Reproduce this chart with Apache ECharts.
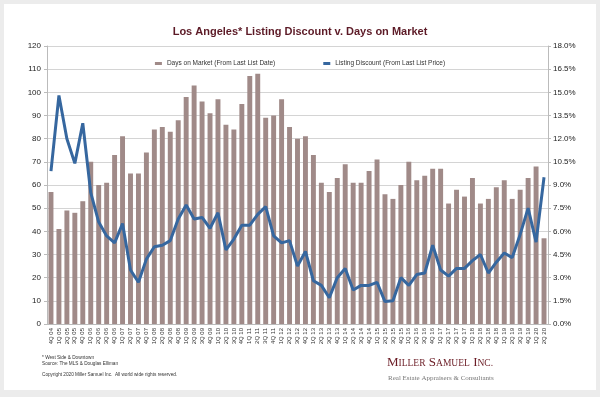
<!DOCTYPE html>
<html>
<head>
<meta charset="utf-8">
<script src="https://cdn.jsdelivr.net/npm/echarts@6/dist/echarts.min.js"></script>
<style>
  html, body { margin: 0; padding: 0; background: #ececec; }
  #myChart { width: 600px; height: 397px; }
</style>
</head>
<body>
<div id="myChart"></div>
<script>
// quarters, 4Q 04 .. 2Q 20
var quarters = [
  "4Q 04",
  "1Q 05", "2Q 05", "3Q 05", "4Q 05",
  "1Q 06", "2Q 06", "3Q 06", "4Q 06",
  "1Q 07", "2Q 07", "3Q 07", "4Q 07",
  "1Q 08", "2Q 08", "3Q 08", "4Q 08",
  "1Q 09", "2Q 09", "3Q 09", "4Q 09",
  "1Q 10", "2Q 10", "3Q 10", "4Q 10",
  "1Q 11", "2Q 11", "3Q 11", "4Q 11",
  "1Q 12", "2Q 12", "3Q 12", "4Q 12",
  "1Q 13", "2Q 13", "3Q 13", "4Q 13",
  "1Q 14", "2Q 14", "3Q 14", "4Q 14",
  "1Q 15", "2Q 15", "3Q 15", "4Q 15",
  "1Q 16", "2Q 16", "3Q 16", "4Q 16",
  "1Q 17", "2Q 17", "3Q 17", "4Q 17",
  "1Q 18", "2Q 18", "3Q 18", "4Q 18",
  "1Q 19", "2Q 19", "3Q 19", "4Q 19",
  "1Q 20", "2Q 20"
];

// days on market (from last list date)
var daysOnMarket = [
  57,
  41, 49, 48, 53,
  70, 60, 61, 73,
  81, 65, 65, 74,
  84, 85, 83, 88,
  98, 103, 96, 91,
  97, 86, 84, 95,
  107, 108, 89, 90,
  97, 85, 80, 81,
  73, 61, 57, 63,
  69, 61, 61, 66,
  71, 56, 54, 60,
  70, 62, 64, 67,
  67, 52, 58, 55,
  63, 52, 54, 59,
  62, 54, 58, 63,
  68, 37
];

// listing discount (from last list price), %
var listingDiscount = [
  9.9,
  14.8, 12.0, 10.4, 13.0,
  8.5, 6.6, 5.7, 5.25,
  6.5, 3.5, 2.7, 4.2,
  5.0, 5.1, 5.4, 6.8,
  7.7, 6.8, 6.9, 6.2,
  7.2, 4.8, 5.5, 6.4,
  6.4, 7.1, 7.6, 5.7,
  5.25, 5.4, 3.75, 4.7,
  2.8, 2.5, 1.7, 3.0,
  3.6, 2.2, 2.5, 2.5,
  2.7, 1.45, 1.5, 3.0,
  2.5, 3.2, 3.3, 5.1,
  3.5, 3.1, 3.6, 3.6,
  4.1, 4.5, 3.3, 4.0,
  4.6, 4.3, 5.8, 7.5,
  5.3, 9.5
];

var leftTicks = [0, 120, 10];   // min, max, interval
var rightTicks = [0, 18, 1.5];

var myChart = echarts.init(document.getElementById("myChart"));
myChart.setOption({
  animation: false,
  backgroundColor: "#ececec",
  textStyle: { fontFamily: "Liberation Sans, Arial, sans-serif" },
  title: {
    text: "Los Angeles* Listing Discount v. Days on Market",
    left: "center",
    top: 21,
    textStyle: { color: "#5c1a26", fontSize: 11, fontWeight: "bold" }
  },
  legend: {
    top: 55,
    left: "center",
    itemGap: 48,
    itemWidth: 7,
    itemHeight: 3,
    textStyle: { fontSize: 6.5, color: "#333" },
    data: [
      { name: "Days on Market (From Last List Date)", icon: "rect" },
      { name: "Listing Discount (From Last List Price)", icon: "rect" }
    ]
  },
  grid: { left: 47, right: 52, top: 46, bottom: 73, containLabel: false },
  xAxis: {
    type: "category",
    data: quarters,
    axisLine: { lineStyle: { color: "#bbb" } },
    axisTick: { show: false },
    axisLabel: { rotate: 90, fontSize: 6, color: "#333", interval: 0, margin: 4 }
  },
  yAxis: [
    {
      type: "value",
      min: leftTicks[0], max: leftTicks[1], interval: leftTicks[2],
      axisLine: { show: true, lineStyle: { color: "#bbb" } },
      axisTick: { show: true, length: 3, lineStyle: { color: "#bbb" } },
      axisLabel: { fontSize: 8, color: "#222", margin: 6 },
      splitLine: { lineStyle: { color: "#d4d4d4", width: 1 } }
    },
    {
      type: "value",
      min: rightTicks[0], max: rightTicks[1], interval: rightTicks[2],
      axisLine: { show: true, lineStyle: { color: "#bbb" } },
      axisTick: { show: true, length: 3, lineStyle: { color: "#bbb" } },
      axisLabel: {
        fontSize: 8, color: "#222", margin: 5,
        formatter: function (v) { return v.toFixed(1) + "%"; }
      },
      splitLine: { show: false }
    }
  ],
  series: [
    {
      name: "Days on Market (From Last List Date)",
      type: "bar",
      data: daysOnMarket,
      barCategoryGap: "38%",
      itemStyle: { color: "#a08a88" }
    },
    {
      name: "Listing Discount (From Last List Price)",
      type: "line",
      yAxisIndex: 1,
      data: listingDiscount,
      symbol: "none",
      smooth: false,
      lineStyle: { color: "#36679f", width: 3 },
      itemStyle: { color: "#36679f" }
    }
  ],
  graphic: [
    // white card behind the chart
    {
      type: "rect", z: -10, silent: true,
      shape: { x: 4, y: 4, width: 592, height: 386 },
      style: { fill: "#ffffff" }
    },
    {
      type: "text", left: 42, top: 355,
      style: { text: "* West Side & Downtown", fontSize: 4.7, fill: "#333", fontFamily: "Liberation Sans" }
    },
    {
      type: "text", left: 42, top: 361,
      style: { text: "Source: The MLS & Douglas Elliman", fontSize: 4.7, fill: "#333", fontFamily: "Liberation Sans" }
    },
    {
      type: "text", left: 42, top: 372,
      style: { text: "Copyright 2020 Miller Samuel Inc.  All world wide rights reserved.", fontSize: 4.7, fill: "#333", fontFamily: "Liberation Sans" }
    },
    // logo, small caps built from two sizes
    {
      type: "text", left: 387, top: 356,
      style: {
        rich: {
          big: { fontSize: 13, fill: "#6b1c25", fontFamily: "Liberation Serif", verticalAlign: "bottom" },
          sm: { fontSize: 9.5, fill: "#6b1c25", fontFamily: "Liberation Serif", verticalAlign: "bottom", padding: [0, 0, 1, 0] }
        },
        text: "{big|M}{sm|ILLER} {big|S}{sm|AMUEL} {big|I}{sm|NC.}"
      }
    },
    {
      type: "text", left: 388, top: 375,
      style: { text: "Real Estate Appraisers & Consultants", fontSize: 7, fill: "#777", fontFamily: "Liberation Serif" }
    }
  ]
});
window.addEventListener("resize", function () {
  myChart.resize();
});
</script>
</body>
</html>
